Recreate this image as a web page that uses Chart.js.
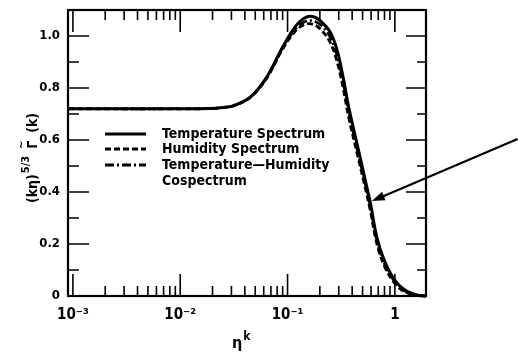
<!DOCTYPE html>
<html>
<head>
<meta charset="utf-8">
<script src="https://cdn.jsdelivr.net/npm/chart.js@4.4.1/dist/chart.umd.min.js"></script>
<style>
html, body { margin: 0; padding: 0; background: #fff; }
#wrap { width: 518px; height: 352px; }
</style>
</head>
<body>
<div id="wrap"><canvas id="spectrumChart" width="518" height="352"></canvas></div>
<script>
// data
const etaK = [0.0009, 0.01, 0.019, 0.025, 0.031, 0.045, 0.064, 0.09, 0.12, 0.15, 0.18, 0.21, 0.25, 0.29, 0.33, 0.37, 0.45, 0.52, 0.59, 0.68, 0.8, 1.0, 1.25, 1.6, 1.95];
const temperatureSpectrum = [0.72, 0.72, 0.721, 0.725, 0.731, 0.765, 0.842, 0.958, 1.04, 1.073, 1.072, 1.052, 1.015, 0.945, 0.84, 0.73, 0.575, 0.46, 0.36, 0.225, 0.135, 0.06, 0.022, 0.004, 0];
const humiditySpectrum = [0.72, 0.72, 0.721, 0.725, 0.731, 0.764, 0.838, 0.95, 1.022, 1.046, 1.042, 1.02, 0.975, 0.9, 0.8, 0.69, 0.54, 0.43, 0.33, 0.2, 0.115, 0.048, 0.015, 0.002, 0];
const cospectrum = [0.72, 0.72, 0.721, 0.725, 0.731, 0.765, 0.84, 0.954, 1.03, 1.058, 1.056, 1.038, 0.995, 0.922, 0.82, 0.71, 0.555, 0.445, 0.345, 0.212, 0.123, 0.054, 0.018, 0.003, 0];

const xDecades = [0.0001, 0.001, 0.01, 0.1, 1];
const xTickLabels = { "0.001": "10⁻³", "0.01": "10⁻²", "0.1": "10⁻¹", "1": "1" };
const yTickLabels = ["0", "0.2", "0.4", "0.6", "0.8", "1.0"];
const legendLabels = ["Temperature Spectrum", "Humidity Spectrum", "Temperature\u2014Humidity", "Cospectrum"];

// arrow annotation (data coords)
const arrowFrom = { x: 13.9, y: 0.604 };
const arrowTo = { x: 0.61, y: 0.365 };

const FONT = "'DejaVu Sans Condensed', 'Liberation Sans', sans-serif";

function pts(ys) {
    return etaK.map((x, i) => ({ x: x, y: ys[i] }));
}

function isDecade(v) {
    const l = Math.log10(v);
    return Math.abs(l - Math.round(l)) < 1e-6;
}

// ticks, frame, legend, titles, arrow
const decorPlugin = {
    id: "decor",
    afterDraw(chart) {
        const ctx = chart.ctx;
        const a = chart.chartArea;
        const xs = chart.scales.x, ys = chart.scales.y;
        ctx.save();
        ctx.strokeStyle = "#000";
        ctx.fillStyle = "#000";

        // inward ticks
        ctx.lineWidth = 1.6;
        ctx.beginPath();
        xs.ticks.forEach(t => {
            const px = xs.getPixelForValue(t.value);
            if (px < a.left + 2 || px > a.right - 2) return;
            const len = isDecade(t.value) ? 22 : 10;
            ctx.moveTo(px, a.bottom); ctx.lineTo(px, a.bottom - len);
            ctx.moveTo(px, a.top); ctx.lineTo(px, a.top + len);
        });
        ys.ticks.forEach(t => {
            const py = ys.getPixelForValue(t.value);
            if (py < a.top + 2 || py > a.bottom - 2) return;
            const major = Math.round(t.value * 10) % 2 === 0;
            ctx.moveTo(a.left, py); ctx.lineTo(a.left + (major ? 21 : 11), py);
            ctx.moveTo(a.right, py); ctx.lineTo(a.right - (major ? 20 : 9), py);
        });
        ctx.stroke();

        // frame
        ctx.lineWidth = 2.2;
        ctx.strokeRect(a.left, a.top, a.right - a.left, a.bottom - a.top);

        // legend
        const styles = [[], [6, 3], [9, 3, 2, 3]];
        const rowY = [134, 149, 165, 181];
        ctx.lineWidth = 2.8;
        styles.forEach((d, i) => {
            ctx.setLineDash(d);
            ctx.beginPath();
            ctx.moveTo(105, rowY[i]); ctx.lineTo(146, rowY[i]);
            ctx.stroke();
        });
        ctx.setLineDash([]);
        ctx.font = "bold 14px " + FONT;
        ctx.textBaseline = "middle";
        ctx.textAlign = "left";
        legendLabels.forEach((s, i) => ctx.fillText(s, 162, rowY[i]));

        // x title  ηk
        ctx.font = "bold 16px " + FONT;
        ctx.textBaseline = "alphabetic";
        ctx.fillText("η", 232, 348);
        const ew = ctx.measureText("η").width;
        ctx.font = "bold 12px " + FONT;
        ctx.fillText("k", 232 + ew + 1, 340);

        // y title  (kη)^5/3 Γ~(k)
        ctx.save();
        ctx.translate(37, 158);
        ctx.rotate(-Math.PI / 2);
        const big = "bold 14px " + FONT, small = "bold 11px " + FONT;
        const p1 = "(kη)", p2 = "5/3", p3 = "Γ", p4 = "(k)";
        ctx.font = big;
        const w1 = ctx.measureText(p1).width, w3 = ctx.measureText(p3).width, w4 = ctx.measureText(p4).width;
        ctx.font = small;
        const w2 = ctx.measureText(p2).width;
        const total = w1 + w2 + w3 + w4 + 16;
        let x0 = -total / 2;
        ctx.font = big;
        ctx.fillText(p1, x0, 0);
        ctx.font = small;
        ctx.fillText(p2, x0 + w1 + 1, -8);
        const gx = x0 + w1 + w2 + 8;
        ctx.font = big;
        ctx.fillText(p3, gx, 0);
        ctx.font = small;
        ctx.textAlign = "center";
        ctx.fillText("~", gx + w3 / 2, -12);
        ctx.textAlign = "left";
        ctx.font = big;
        ctx.fillText(p4, gx + w3 + 8, 0);
        ctx.restore();

        // arrow
        const fx = xs.getPixelForValue(arrowFrom.x), fy = ys.getPixelForValue(arrowFrom.y);
        const tx = xs.getPixelForValue(arrowTo.x), ty = ys.getPixelForValue(arrowTo.y);
        const ang = Math.atan2(ty - fy, tx - fx);
        ctx.lineWidth = 2.2;
        ctx.beginPath();
        ctx.moveTo(fx, fy);
        ctx.lineTo(tx - 8 * Math.cos(ang), ty - 8 * Math.sin(ang));
        ctx.stroke();
        ctx.beginPath();
        ctx.moveTo(tx, ty);
        ctx.lineTo(tx - 13 * Math.cos(ang) + 4.5 * Math.sin(ang), ty - 13 * Math.sin(ang) - 4.5 * Math.cos(ang));
        ctx.lineTo(tx - 13 * Math.cos(ang) - 4.5 * Math.sin(ang), ty - 13 * Math.sin(ang) + 4.5 * Math.cos(ang));
        ctx.closePath();
        ctx.fill();

        ctx.restore();
    }
};

const ctx = document.getElementById("spectrumChart").getContext("2d");
const spectrumChart = new Chart(ctx, {
    type: "line",
    data: {
        datasets: [{
            label: legendLabels[1],
            data: pts(humiditySpectrum),
            borderColor: "#000",
            borderWidth: 2.8,
            borderDash: [6, 3],
        }, {
            label: legendLabels[2] + " " + legendLabels[3],
            data: pts(cospectrum),
            borderColor: "#000",
            borderWidth: 2.6,
            borderDash: [9, 3, 2, 3],
        }, {
            label: legendLabels[0],
            data: pts(temperatureSpectrum),
            borderColor: "#000",
            borderWidth: 3,
        }]
    },
    options: {
        responsive: false,
        animation: false,
        clip: false,
        layout: { padding: { top: 10, right: 92, left: 0, bottom: 0 } },
        elements: {
            point: { radius: 0 },
            line: { tension: 0.35, fill: false }
        },
        plugins: { legend: { display: false }, tooltip: { enabled: false } },
        scales: {
            x: {
                type: "logarithmic",
                min: 0.0009,
                max: 1.95,
                grid: { display: false, drawTicks: false },
                border: { display: false },
                afterBuildTicks(scale) {
                    const t = [];
                    xDecades.forEach(d => {
                        for (let m = 1; m <= 9; m++) {
                            const v = +(m * d).toPrecision(6);
                            if (v >= scale.min && v <= scale.max) t.push({ value: v });
                        }
                    });
                    scale.ticks = t;
                },
                afterFit(scale) {
                    scale.height = 56;
                    scale.paddingLeft = 0;
                    scale.paddingRight = 0;
                },
                ticks: {
                    autoSkip: false,
                    maxRotation: 0,
                    padding: 10,
                    color: "#000",
                    font: { family: FONT, size: 15, weight: "bold" },
                    callback: v => xTickLabels[String(+v.toPrecision(6))] || ""
                }
            },
            y: {
                type: "linear",
                min: 0,
                max: 1.1,
                grid: { display: false, drawTicks: false },
                border: { display: false },
                afterFit(scale) {
                    scale.width = 68;
                    scale.paddingTop = 0;
                    scale.paddingBottom = 0;
                },
                ticks: {
                    stepSize: 0.1,
                    autoSkip: false,
                    padding: 8,
                    color: "#000",
                    font: { family: FONT, size: 13, weight: "bold" },
                    callback: (v, i) => (i % 2 === 0 ? yTickLabels[i / 2] || "" : "")
                }
            }
        }
    },
    plugins: [decorPlugin]
});
</script>
</body>
</html>
